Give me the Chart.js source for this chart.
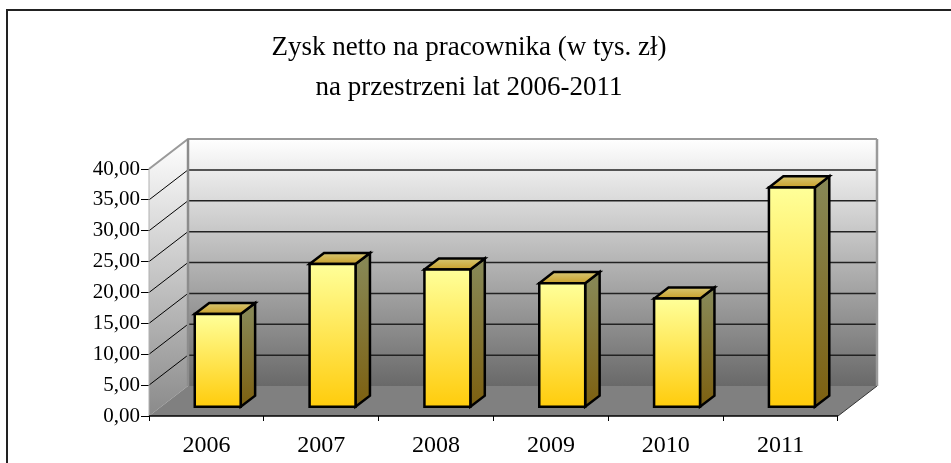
<!DOCTYPE html>
<html>
<head>
<meta charset="utf-8">
<script src="https://cdn.jsdelivr.net/npm/chart.js@4/dist/chart.umd.min.js"></script>
<style>
  body { margin: 0; background: #fff; }
  canvas { display: block; }
</style>
</head>
<body>
<canvas id="chart" width="951" height="463"></canvas>
<script>
// data
const years = ['2006', '2007', '2008', '2009', '2010', '2011'];
const zysk = [15.1, 23.2, 22.3, 20.1, 17.6, 35.6];
const titleLines = ['Zysk netto na pracownika (w tys. zł)', 'na przestrzeni lat 2006-2011'];
const yMin = 0, yMax = 40, yStep = 5;

const FONT = '"Liberation Serif", "Times New Roman", serif';

// 3d look
const depthX = 39, depthY = -30;
const barFront = 0.29, barBack = 0.66;

const framePlugin = {
  id: 'frame',
  beforeDraw(chart) {
    const ctx = chart.ctx;
    ctx.save();
    ctx.fillStyle = '#fff';
    ctx.fillRect(0, 0, chart.width, chart.height);
    ctx.strokeStyle = '#222';
    ctx.lineWidth = 2;
    ctx.beginPath();
    ctx.moveTo(7, chart.height);
    ctx.lineTo(7, 10);
    ctx.lineTo(chart.width, 10);
    ctx.stroke();
    ctx.restore();
  },
  afterDraw(chart) {
    const ctx = chart.ctx;
    ctx.save();
    ctx.fillStyle = '#000';
    ctx.font = '27px ' + FONT;
    ctx.textAlign = 'center';
    ctx.textBaseline = 'alphabetic';
    ctx.fillText(titleLines[0], 469, 55);
    ctx.fillText(titleLines[1], 469, 95);
    ctx.restore();
  }
};

const wallsPlugin = {
  id: 'walls',
  beforeDatasetsDraw(chart) {
    const { ctx, chartArea: a, scales: { y } } = chart;
    const L = a.left, R = a.right, T = a.top, B = a.bottom;
    ctx.save();

    // back wall
    let g = ctx.createLinearGradient(0, T + depthY, 0, B + depthY);
    g.addColorStop(0, '#ffffff');
    g.addColorStop(1, '#696969');
    ctx.fillStyle = g;
    ctx.fillRect(L + depthX, T + depthY, R - L, B - T);

    // side wall
    g = ctx.createLinearGradient(0, T + depthY, 0, B);
    g.addColorStop(0, '#ffffff');
    g.addColorStop(1, '#8a8a8a');
    ctx.fillStyle = g;
    ctx.beginPath();
    ctx.moveTo(L, T);
    ctx.lineTo(L + depthX, T + depthY);
    ctx.lineTo(L + depthX, B + depthY);
    ctx.lineTo(L, B);
    ctx.closePath();
    ctx.fill();

    // floor
    ctx.fillStyle = '#808080';
    ctx.beginPath();
    ctx.moveTo(L, B);
    ctx.lineTo(R, B);
    ctx.lineTo(R + depthX, B + depthY);
    ctx.lineTo(L + depthX, B + depthY);
    ctx.closePath();
    ctx.fill();

    // gridlines on back and side walls
    y.ticks.forEach(t => {
      if (t.value <= yMin || t.value >= yMax) return;
      const py = y.getPixelForValue(t.value);
      ctx.strokeStyle = '#222';
      ctx.lineWidth = 1.5;
      ctx.beginPath();
      ctx.moveTo(L + depthX, py + depthY);
      ctx.lineTo(R + depthX, py + depthY);
      ctx.stroke();
      ctx.strokeStyle = '#000';
      ctx.lineWidth = 1;
      ctx.beginPath();
      ctx.moveTo(L, py);
      ctx.lineTo(L + depthX, py + depthY);
      ctx.stroke();
    });

    // edges
    ctx.strokeStyle = '#9a9a9a';
    ctx.lineWidth = 2;
    ctx.beginPath();
    ctx.moveTo(L, T);
    ctx.lineTo(L + depthX, T + depthY);
    ctx.lineTo(R + depthX, T + depthY);
    ctx.stroke();
    ctx.lineWidth = 2.5;
    ctx.beginPath();
    ctx.moveTo(R + depthX, T + depthY);
    ctx.lineTo(R + depthX, B + depthY);
    ctx.stroke();
    ctx.strokeStyle = '#8c8c8c';
    ctx.beginPath();
    ctx.moveTo(L + depthX, T + depthY);
    ctx.lineTo(L + depthX, B + depthY);
    ctx.stroke();
    ctx.strokeStyle = '#b0b0b0';
    ctx.lineWidth = 1;
    ctx.beginPath();
    ctx.moveTo(L, T);
    ctx.lineTo(L, B);
    ctx.stroke();

    ctx.strokeStyle = '#000';
    ctx.lineWidth = 1.5;
    ctx.beginPath();
    ctx.moveTo(L, B);
    ctx.lineTo(R, B);
    ctx.stroke();
    ctx.strokeStyle = '#333';
    ctx.lineWidth = 1;
    ctx.beginPath();
    ctx.moveTo(R, B);
    ctx.lineTo(R + depthX, B + depthY);
    ctx.stroke();

    ctx.restore();
  },
  afterDatasetsDraw(chart) {
    const ctx = chart.ctx;
    const meta = chart.getDatasetMeta(0);
    const ddx = (barBack - barFront) * depthX;
    const ddy = (barBack - barFront) * depthY;
    ctx.save();
    ctx.strokeStyle = '#000';
    ctx.lineWidth = 2.5;
    ctx.lineJoin = 'miter';
    meta.data.forEach(el => {
      const { x, y, base, width } = el.getProps(['x', 'y', 'base', 'width'], true);
      const fl = x - width / 2 + barFront * depthX;
      const fr = x + width / 2 + barFront * depthX;
      const ft = y + barFront * depthY;
      const fb = base + barFront * depthY;

      // side face
      let g = ctx.createLinearGradient(0, ft, 0, fb);
      g.addColorStop(0, '#878754');
      g.addColorStop(1, '#7d6010');
      ctx.fillStyle = g;
      ctx.beginPath();
      ctx.moveTo(fr, ft);
      ctx.lineTo(fr + ddx, ft + ddy);
      ctx.lineTo(fr + ddx, fb + ddy);
      ctx.lineTo(fr, fb);
      ctx.closePath();
      ctx.fill();
      ctx.stroke();

      // top face
      g = ctx.createLinearGradient(0, ft + ddy, 0, ft);
      g.addColorStop(0, '#d6c672');
      g.addColorStop(1, '#c9a02a');
      ctx.fillStyle = g;
      ctx.beginPath();
      ctx.moveTo(fl, ft);
      ctx.lineTo(fl + ddx, ft + ddy);
      ctx.lineTo(fr + ddx, ft + ddy);
      ctx.lineTo(fr, ft);
      ctx.closePath();
      ctx.fill();
      ctx.stroke();

      // front face
      g = ctx.createLinearGradient(0, ft, 0, fb);
      g.addColorStop(0, '#ffff99');
      g.addColorStop(1, '#ffcc0c');
      ctx.fillStyle = g;
      ctx.beginPath();
      ctx.rect(fl, ft, fr - fl, fb - ft);
      ctx.fill();
      ctx.stroke();
    });
    ctx.restore();
  }
};

new Chart(document.getElementById('chart'), {
  type: 'bar',
  data: {
    labels: years,
    datasets: [{
      label: 'Zysk netto',
      data: zysk,
      backgroundColor: 'rgba(0,0,0,0)',
      borderWidth: 0,
      barPercentage: 0.4,
      categoryPercentage: 1
    }]
  },
  options: {
    responsive: false,
    animation: false,
    layout: { padding: { top: 169, right: 113, left: 0, bottom: 0 } },
    plugins: {
      legend: { display: false },
      tooltip: { enabled: false },
      title: { display: false }
    },
    scales: {
      x: {
        offset: true,
        grid: { offset: true, drawOnChartArea: false, drawTicks: true, tickLength: 5, color: '#000' },
        border: { display: false },
        ticks: { color: '#000', font: { family: FONT, size: 24 }, padding: 10 },
        afterFit(s) { s.height = 47; }
      },
      y: {
        min: yMin,
        max: yMax,
        grid: { drawOnChartArea: false, drawTicks: true, tickLength: 8, color: '#000' },
        border: { display: false },
        ticks: {
          stepSize: yStep,
          color: '#000',
          padding: 1,
          font: { family: FONT, size: 21 },
          callback: v => v.toFixed(2).replace('.', ',')
        },
        afterFit(s) { s.width = 149; }
      }
    }
  },
  plugins: [framePlugin, wallsPlugin]
});
</script>
</body>
</html>
